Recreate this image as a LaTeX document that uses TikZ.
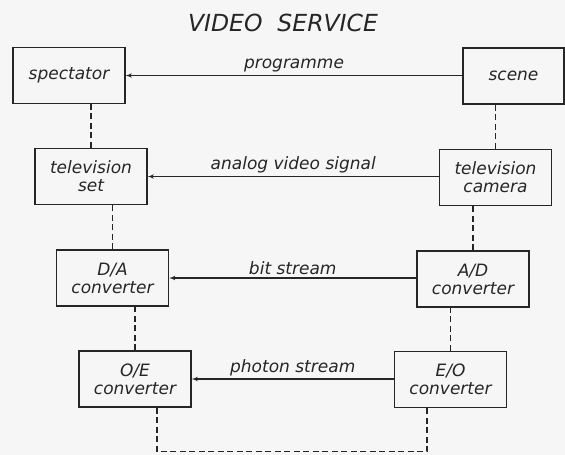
\documentclass[tikz,border=0pt]{standalone}
\usepackage{fontspec}
\setmainfont{DejaVu Sans}
\usetikzlibrary{arrows}
\definecolor{ink}{gray}{0.15}
\definecolor{paper}{gray}{0.965}
\tikzstyle{line} = [draw, -latex', line width=1.1pt, ink]
\tikzstyle{link} = [draw, dash pattern=on 6pt off 3.5pt, line width=1.1pt, ink]
\tikzstyle{block} = [rectangle, draw=ink, line width=1.1pt, minimum width=112pt, minimum height=56pt, text=ink, align=center, font=\fontsize{17}{18}\selectfont\itshape]
\tikzstyle{lab} = [above, midway, text=ink, inner sep=2.5pt, font=\fontsize{17}{18}\selectfont\itshape]

\begin{document}
\begin{tikzpicture}[x=1pt, y=-1pt]
\useasboundingbox [fill=paper] (0,0) rectangle (565,455);

\node [text=ink, font=\fontsize{23.5}{26}\selectfont\itshape] (title) at (283,23) {VIDEO\ \ SERVICE};

% receiving side
\node [block] (spectator) at (69,75.5) {spectator};
\node [block] (tvset) at (91,176.5) {television\\set};
\node [block] (da) at (112.5,278) {D/A\\converter};
\node [block] (oe) at (135,379) {O/E\\converter};

% sending side
\node [block, minimum width=101pt] (scene) at (513.5,76) {scene};
\node [block] (camera) at (495.5,177.5) {television\\camera};
\node [block] (ad) at (473,279) {A/D\\converter};
\node [block] (eo) at (450.5,379.5) {E/O\\converter};

\path [line] (scene.west |- spectator.east) to node [lab] {programme} (spectator.east);
\path [line] (camera.west |- tvset.east) to node [lab] {analog video signal} (tvset.east);
\path [line] (ad.west |- da.east) to node [lab] {bit stream} (da.east);
\path [line] (eo.west |- oe.east) to node [lab] {photon stream} (oe.east);

\path [link] (tvset.north) to (tvset.north |- spectator.south);
\path [link] (da.north) to (da.north |- tvset.south);
\path [link] (oe.north) to (oe.north |- da.south);
\path [link] (camera.north) to (camera.north |- scene.south);
\path [link] (ad.north) to (ad.north |- camera.south);
\path [link] (eo.north) to (eo.north |- ad.south);

\path [link] ([xshift=22pt]oe.south) -- ++(0,44) -| ([xshift=-23.5pt]eo.south);

\end{tikzpicture}
\end{document}
